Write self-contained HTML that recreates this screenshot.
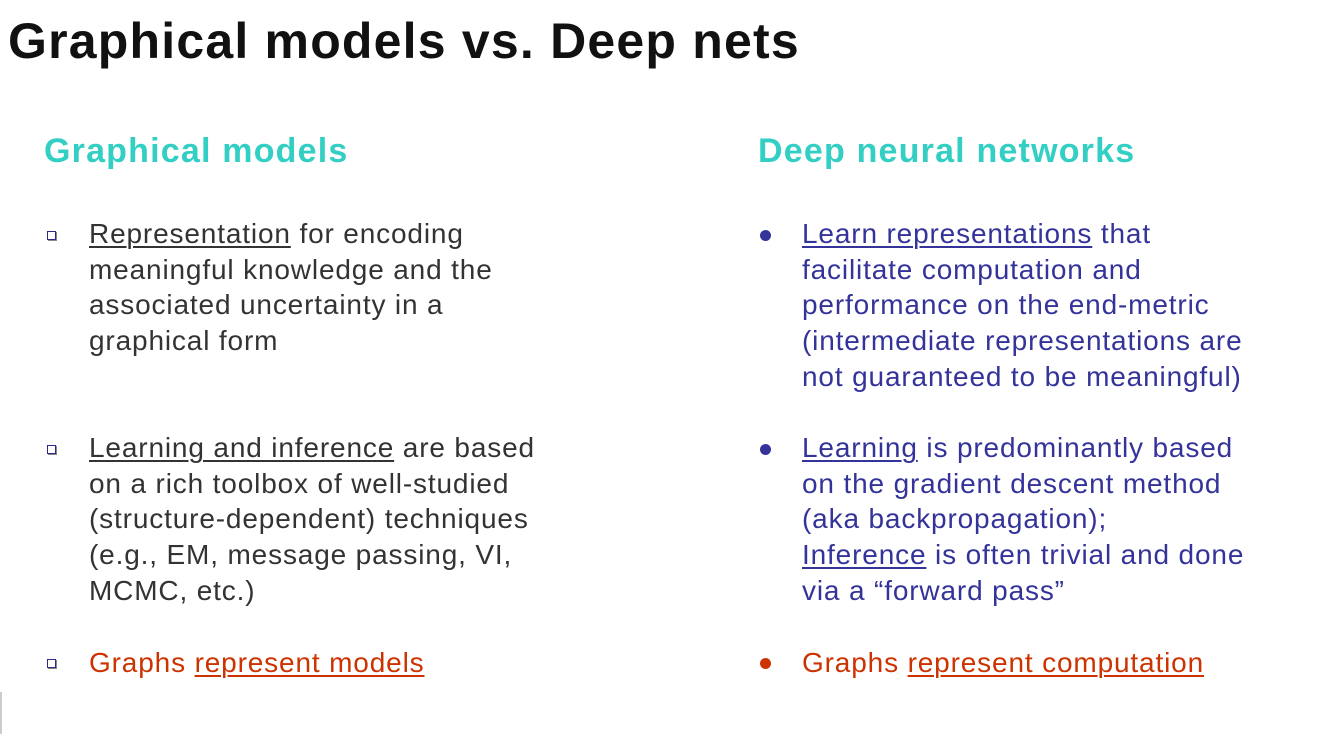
<!DOCTYPE html>
<html><head><meta charset="utf-8"><style>
body{margin:0;width:1330px;height:734px;background:#fff;font-family:"Liberation Sans",Arial,sans-serif;position:relative;overflow:hidden}
h1{position:absolute;left:8px;top:11px;margin:0;font-size:50px;letter-spacing:1.2px;font-weight:bold;color:#111;line-height:60px}
.h{position:absolute;top:130px;font-size:34px;letter-spacing:1.2px;font-weight:bold;color:#33cfc4;line-height:42px}
.t{position:absolute;font-size:28px;letter-spacing:0.85px;line-height:35.7px;color:#333;white-space:nowrap}
.r{color:#33339a}
.o{color:#cc3300}
u{text-underline-offset:3px;text-decoration-thickness:1.5px}
.sq{position:absolute;width:7px;height:7px;border:1.5px solid #2a2a8a;box-shadow:1px 1px 0 #888}
.dot{position:absolute;width:11px;height:11px;border-radius:50%}
</style></head><body>
<h1>Graphical models vs. Deep nets</h1>
<div class="h" style="left:44px">Graphical models</div>
<div class="h" style="left:758px">Deep neural networks</div>

<div class="sq" style="left:47px;top:231px"></div>
<div class="t" style="left:89px;top:216px"><u>Representation</u> for encoding<br>meaningful knowledge and the<br>associated uncertainty in a<br>graphical form</div>
<div class="sq" style="left:47px;top:445px"></div>
<div class="t" style="left:89px;top:430px"><u>Learning and inference</u> are based<br>on a rich toolbox of well-studied<br>(structure-dependent) techniques<br>(e.g., EM, message passing, VI,<br>MCMC, etc.)</div>
<div class="sq" style="left:47px;top:659px"></div>
<div class="t o" style="left:89px;top:645px">Graphs <u>represent models</u></div>

<div class="dot" style="left:760px;top:230px;background:#33339a"></div>
<div class="t r" style="left:802px;top:216px"><u>Learn representations</u> that<br>facilitate computation and<br>performance on the end-metric<br>(intermediate representations are<br>not guaranteed to be meaningful)</div>
<div class="dot" style="left:760px;top:444px;background:#33339a"></div>
<div class="t r" style="left:802px;top:430px"><u>Learning</u> is predominantly based<br>on the gradient descent method<br>(aka backpropagation);<br><u>Inference</u> is often trivial and done<br>via a “forward pass”</div>
<div class="dot" style="left:760px;top:658px;background:#cc3300"></div>
<div class="t o" style="left:802px;top:645px">Graphs <u>represent computation</u></div>
<div style="position:absolute;left:0;top:692px;width:2px;height:42px;background:#ccc"></div>
</body></html>
